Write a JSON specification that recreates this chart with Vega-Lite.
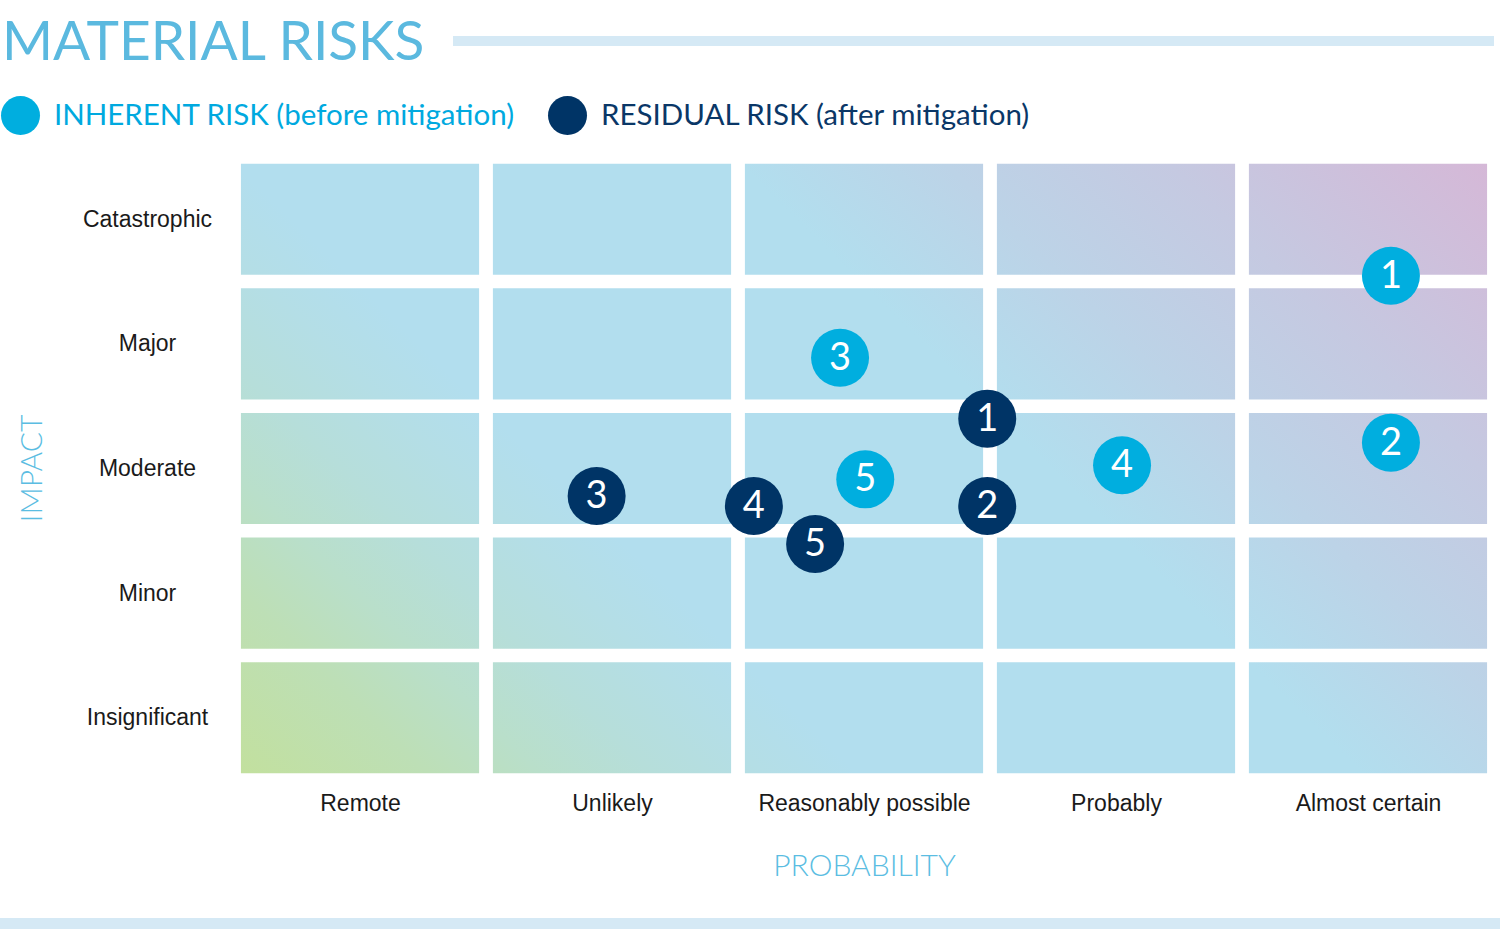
{
  "$schema": "https://vega.github.io/schema/vega-lite/v6.json",
  "width": 1260,
  "height": 623,
  "autosize": {"type": "none"},
  "padding": {"left": 234, "top": 157, "right": 6, "bottom": 149},
  "background": "#ffffff",
  "title": {
    "text": "MATERIAL RISKS",
    "anchor": "start",
    "frame": "group",
    "font": "Lato",
    "fontSize": 55,
    "fontWeight": 400,
    "color": "#5bb9df",
    "dx": -232,
    "dy": 36,
    "offset": 0
  },
  "config": {
    "view": {"stroke": null},
    "axis": {"domain": false, "ticks": false, "grid": false}
  },
  "datasets": {
    "risks": [
      {"id": "1", "type": "Inherent", "probability": 4.591, "impact": 4.047},
      {"id": "2", "type": "Inherent", "probability": 4.591, "impact": 2.707},
      {"id": "3", "type": "Inherent", "probability": 2.405, "impact": 3.389},
      {"id": "4", "type": "Inherent", "probability": 3.524, "impact": 2.526},
      {"id": "5", "type": "Inherent", "probability": 2.505, "impact": 2.413},
      {"id": "1", "type": "Residual", "probability": 2.989, "impact": 2.900},
      {"id": "2", "type": "Residual", "probability": 2.989, "impact": 2.199},
      {"id": "3", "type": "Residual", "probability": 1.439, "impact": 2.279},
      {"id": "4", "type": "Residual", "probability": 2.063, "impact": 2.199},
      {"id": "5", "type": "Residual", "probability": 2.306, "impact": 1.894}
    ],
    "bounds": [{"b": 1}, {"b": 2}, {"b": 3}, {"b": 4}]
  },
  "layer": [
    {
      "data": {"values": [{}]},
      "mark": {
        "type": "rect",
        "color": {
          "gradient": "linear",
          "x1": 0, "y1": 1, "x2": 1.2, "y2": 0.4,
          "stops": [
            {"offset": 0, "color": "#c2e09e"},
            {"offset": 0.1, "color": "#bddfb6"},
            {"offset": 0.16, "color": "#b9dfca"},
            {"offset": 0.22, "color": "#b6deda"},
            {"offset": 0.28, "color": "#b4dee6"},
            {"offset": 0.33, "color": "#b2deee"},
            {"offset": 0.6, "color": "#b2deee"},
            {"offset": 0.71, "color": "#bcd3e7"},
            {"offset": 0.83, "color": "#c5c9e1"},
            {"offset": 1, "color": "#d5b8d7"}
          ]
        }
      },
      "encoding": {
        "x": {"datum": 0.0275, "type": "quantitative", "scale": {"domain": [0, 5], "nice": false, "zero": false},
          "axis": {
            "values": [0.5, 1.5, 2.5, 3.5, 4.5],
            "labelExpr": "['Remote','Unlikely','Reasonably possible','Probably','Almost certain'][floor(datum.value)]",
            "labelFont": "Liberation Sans",
            "labelFontSize": 23,
            "labelColor": "#1a1a1a",
            "labelBaseline": "middle",
            "labelPadding": 23,
            "labelLimit": 400,
            "labelOverlap": false,
            "title": "PROBABILITY",
            "titleFont": "Lato",
            "titleFontWeight": 300,
            "titleFontSize": 30,
            "titleColor": "#5bbde2",
            "titleBaseline": "middle",
            "titleY": 86
          }
        },
        "x2": {"datum": 4.9725},
        "y": {"datum": 0.054, "type": "quantitative", "scale": {"domain": [0, 5], "nice": false, "zero": false},
          "axis": {
            "values": [0.5, 1.5, 2.5, 3.5, 4.5],
            "labelExpr": "['Insignificant','Minor','Moderate','Major','Catastrophic'][floor(datum.value)]",
            "labelFont": "Liberation Sans",
            "labelFontSize": 23,
            "labelColor": "#1a1a1a",
            "labelAlign": "center",
            "labelBaseline": "middle",
            "labelPadding": 87,
            "labelLimit": 300,
            "title": "IMPACT",
            "titleFont": "Lato",
            "titleFontWeight": 300,
            "titleFontSize": 30,
            "titleColor": "#5bbde2",
            "titleAngle": 270,
            "titleAlign": "center",
            "titleBaseline": "middle",
            "titleX": -202,
            "titleY": 311
          }
        },
        "y2": {"datum": 4.946}
      }
    },
    {
      "data": {"name": "bounds"},
      "mark": {"type": "rule", "color": "#ffffff", "strokeWidth": 13.8},
      "encoding": {
        "x": {"field": "b", "type": "quantitative"},
        "y": {"datum": 0},
        "y2": {"datum": 5}
      }
    },
    {
      "data": {"name": "bounds"},
      "mark": {"type": "rule", "color": "#ffffff", "strokeWidth": 13.5},
      "encoding": {
        "y": {"field": "b", "type": "quantitative"},
        "x": {"datum": 0},
        "x2": {"datum": 5}
      }
    },
    {
      "data": {"values": [{}]},
      "mark": {"type": "rule", "color": "#d5e9f5", "strokeWidth": 10},
      "encoding": {
        "x": {"datum": 0.869},
        "x2": {"datum": 5.0},
        "y": {"datum": 5.931}
      }
    },
    {
      "data": {"values": [{}]},
      "mark": {"type": "rule", "color": "#d5e9f5", "strokeWidth": 11},
      "encoding": {
        "x": {"datum": -0.93},
        "x2": {"datum": 5.03},
        "y": {"datum": -1.152}
      }
    },
    {
      "data": {"name": "risks"},
      "mark": {"type": "point", "filled": true, "opacity": 1, "size": 3364, "shape": "circle"},
      "encoding": {
        "x": {"field": "probability", "type": "quantitative"},
        "y": {"field": "impact", "type": "quantitative"},
        "color": {
          "field": "type",
          "type": "nominal",
          "scale": {"domain": ["Inherent", "Residual"], "range": ["#00aedf", "#003466"]},
          "legend": {
            "title": null,
            "orient": "none",
            "legendX": -233,
            "legendY": -61,
            "direction": "horizontal",
            "columns": 2,
            "columnPadding": 33,
            "padding": 0,
            "symbolType": "circle",
            "symbolSize": 1521,
            "symbolStrokeWidth": 0,
            "symbolOpacity": 1,
            "labelOffset": 14,
            "labelFont": "Lato",
            "labelFontSize": 29.5,
            "labelBaseline": "middle",
            "labelLimit": 600,
            "labelExpr": "datum.value === 'Inherent' ? 'INHERENT RISK (before mitigation)' : 'RESIDUAL RISK (after mitigation)'",
            "labelColor": {"expr": "datum.value === 'Inherent' ? '#00a9df' : '#0a3767'"}
          }
        }
      }
    },
    {
      "data": {"name": "risks"},
      "mark": {"type": "text", "color": "#ffffff", "font": "Lato", "fontSize": 38, "baseline": "middle", "align": "center", "dy": 1},
      "encoding": {
        "x": {"field": "probability", "type": "quantitative"},
        "y": {"field": "impact", "type": "quantitative"},
        "text": {"field": "id"}
      }
    }
  ]
}
